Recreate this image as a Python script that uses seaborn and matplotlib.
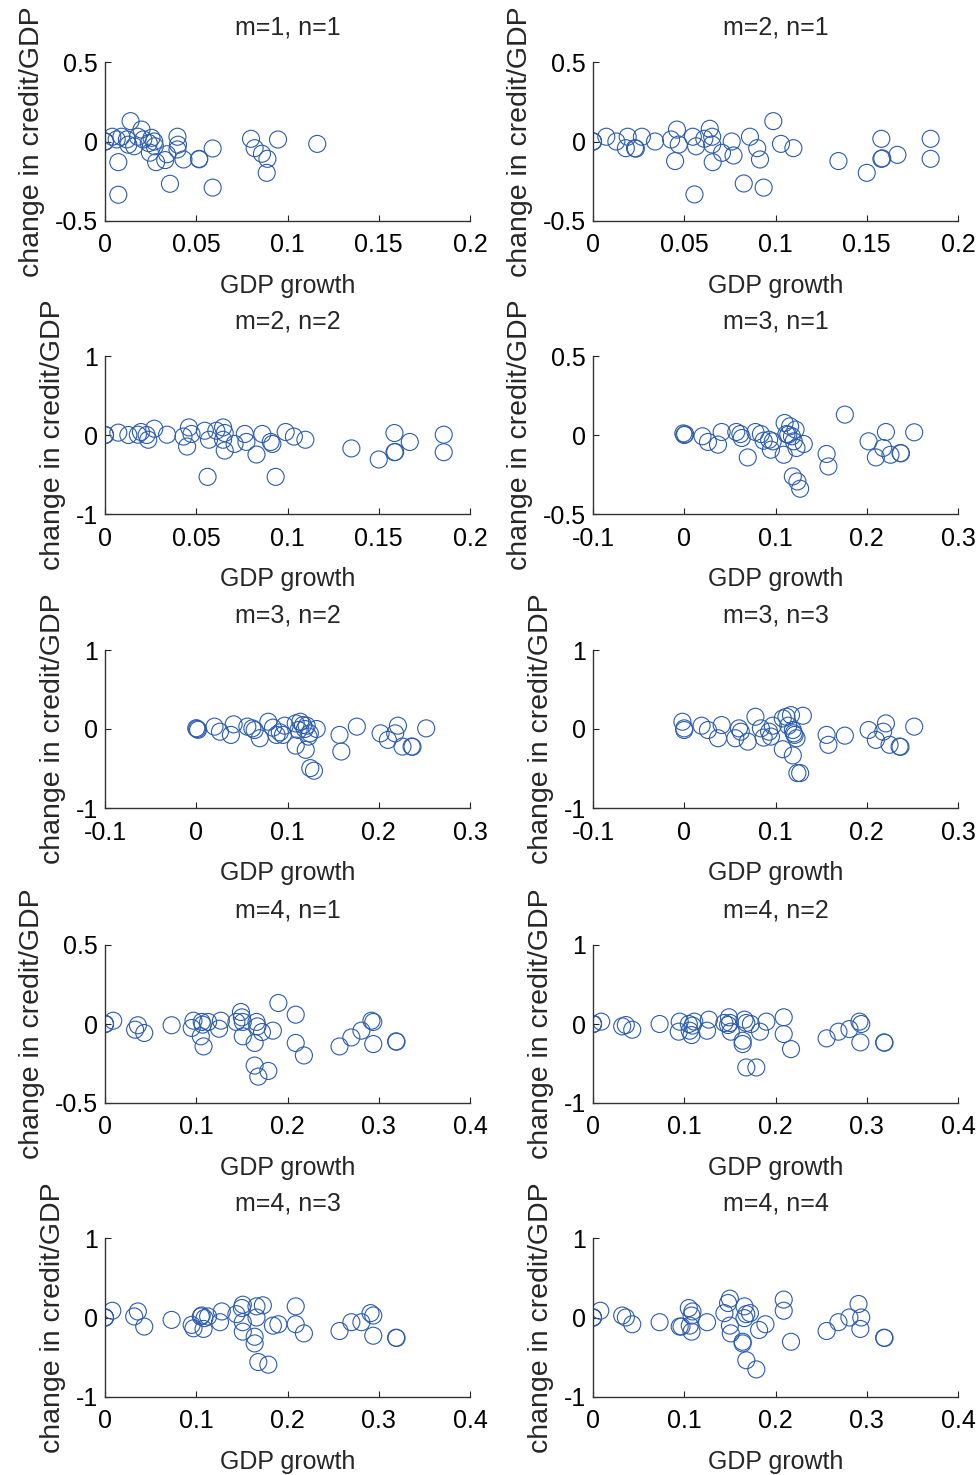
import matplotlib
matplotlib.use("Agg")
import matplotlib.pyplot as plt
import seaborn as sns
import pandas as pd

# ---------------- data ----------------
titles = ["m=1, n=1", "m=2, n=1", "m=2, n=2", "m=3, n=1", "m=3, n=2",
          "m=3, n=3", "m=4, n=1", "m=4, n=2", "m=4, n=3", "m=4, n=4"]

pts_m1n1 = [(0, 0), (0, 0), (0, 0), (0.004, 0.03), (0.0073, -0.13), (0.0073, -0.335),
            (0.014, 0.128), (0.0064, 0.013), (0.009, 0.03), (0.012, 0.013), (0.0128, -0.02),
            (0.016, -0.03), (0.018, 0.03), (0.020, 0.075), (0.021, 0.013), (0.024, -0.01),
            (0.0255, 0.023), (0.027, 0.0), (0.0273, -0.03), (0.0246, -0.07), (0.028, -0.13),
            (0.033, -0.117), (0.034, -0.08), (0.0397, 0.03), (0.040, -0.02), (0.0397, -0.05),
            (0.043, -0.113), (0.0516, -0.109), (0.0516, -0.112), (0.059, -0.044),
            (0.0356, -0.266), (0.059, -0.29), (0.080, 0.017), (0.082, -0.042), (0.086, -0.077),
            (0.089, -0.109), (0.0886, -0.197), (0.0948, 0.0125), (0.1163, -0.015)]

pts_m2n1 = [(0, 0), (0, 0), (0, 0), (0.0073, 0.03), (0.0128, 0.0), (0.018, -0.042),
            (0.019, 0.03), (0.023, -0.042), (0.0235, -0.045), (0.0268, 0.03), (0.034, 0.0),
            (0.0428, 0.0125), (0.046, 0.075), (0.047, -0.019), (0.045, -0.123), (0.0547, 0.03),
            (0.0565, -0.03), (0.061, 0.017), (0.064, 0.08), (0.0653, 0.03), (0.0653, -0.019),
            (0.0656, -0.13), (0.0707, -0.071), (0.076, 0.0), (0.077, -0.088), (0.086, 0.03),
            (0.090, -0.042), (0.0915, -0.113), (0.0826, -0.264), (0.0935, -0.29),
            (0.0556, -0.333), (0.0988, 0.128), (0.103, -0.015), (0.1098, -0.042),
            (0.1345, -0.123), (0.150, -0.197), (0.158, 0.017), (0.158, -0.109),
            (0.1585, -0.106), (0.1668, -0.084), (0.185, 0.017), (0.185, -0.109)]

pts_m2n2 = [(0, 0), (0, 0), (0, 0), (0.0073, 0.03), (0.0128, 0.0), (0.018, 0.004),
            (0.0197, 0.038), (0.0228, 0.0), (0.0237, -0.06), (0.027, 0.08), (0.034, 0.004),
            (0.043, -0.02), (0.046, 0.096), (0.0474, 0.013), (0.045, -0.146), (0.0547, 0.054),
            (0.057, -0.06), (0.061, 0.054), (0.0647, 0.096), (0.0656, 0.025), (0.0647, -0.06),
            (0.0656, -0.197), (0.071, -0.113), (0.0766, 0.013), (0.0775, -0.088),
            (0.0862, 0.013), (0.083, -0.247), (0.0908, -0.088), (0.0917, -0.113),
            (0.099, 0.038), (0.1035, -0.02), (0.1098, -0.06), (0.0562, -0.53), (0.0935, -0.53),
            (0.135, -0.17), (0.150, -0.31), (0.1586, 0.025), (0.1586, -0.218), (0.159, -0.214),
            (0.167, -0.088), (0.1856, 0.004), (0.1856, -0.218)]

pts_m3n1 = [(-0.001, 0.01), (0.0, 0.0), (0.001, 0.005), (0.020, -0.008), (0.026, -0.044),
            (0.037, -0.061), (0.041, 0.019), (0.057, 0.019), (0.0615, 0.006), (0.063, -0.019),
            (0.0696, -0.142), (0.078, 0.019), (0.084, 0.006), (0.087, -0.036), (0.093, -0.03),
            (0.097, -0.04), (0.095, -0.093), (0.109, -0.125), (0.11, 0.076), (0.112, 0.006),
            (0.116, 0.055), (0.118, -0.008), (0.122, 0.034), (0.12, -0.04), (0.123, -0.082),
            (0.131, -0.057), (0.119, -0.262), (0.124, -0.294), (0.127, -0.34), (0.114, 0.002),
            (0.156, -0.12), (0.158, -0.199), (0.176, 0.129), (0.202, -0.04), (0.21, -0.142),
            (0.218, -0.082), (0.221, 0.019), (0.226, -0.125), (0.237, -0.114),
            (0.2375, -0.116), (0.252, 0.017)]

pts_m3n2 = [(0, 0.01), (0.001, 0.0), (0.002, -0.01), (0.02, 0.03), (0.026, -0.034),
            (0.038, -0.075), (0.041, 0.059), (0.056, 0.03), (0.0615, 0.008), (0.064, -0.013),
            (0.0696, -0.117), (0.079, 0.092), (0.084, 0.017), (0.088, -0.075), (0.097, 0.042),
            (0.095, -0.075), (0.0916, -0.042), (0.109, 0.071), (0.112, -0.013), (0.114, 0.092),
            (0.117, 0.05), (0.119, 0.0), (0.121, 0.042), (0.1245, -0.055), (0.123, -0.096),
            (0.132, 0.0), (0.109, -0.21), (0.12, -0.264), (0.125, -0.495), (0.129, -0.528),
            (0.157, -0.075), (0.159, -0.285), (0.176, 0.03), (0.202, -0.055), (0.21, -0.138),
            (0.218, -0.055), (0.221, 0.042), (0.226, -0.222), (0.236, -0.222),
            (0.237, -0.225), (0.252, 0.008)]

pts_m3n3 = [(0, -0.013), (-0.002, 0.092), (0, 0.008), (0.019, 0.042), (0.026, -0.013),
            (0.037, -0.117), (0.041, 0.05), (0.056, -0.117), (0.06, 0.008), (0.062, -0.034),
            (0.0696, -0.16), (0.078, 0.155), (0.084, 0.008), (0.087, -0.109), (0.093, -0.034),
            (0.095, -0.096), (0.097, 0.042), (0.108, 0.134), (0.112, 0.155), (0.117, 0.176),
            (0.114, 0.042), (0.119, -0.013), (0.121, -0.075), (0.123, -0.117), (0.12, -0.055),
            (0.13, 0.168), (0.108, -0.256), (0.119, -0.335), (0.124, -0.558), (0.127, -0.558),
            (0.156, -0.075), (0.158, -0.2), (0.176, -0.084), (0.202, -0.013), (0.21, -0.138),
            (0.218, -0.034), (0.221, 0.071), (0.225, -0.2), (0.236, -0.222), (0.237, -0.226),
            (0.252, 0.03)]

pts_m4n1 = [(0, 0), (0, 0), (0, 0), (0.009, 0.021), (0.033, -0.036), (0.036, -0.008),
            (0.043, -0.057), (0.073, -0.008), (0.097, 0.021), (0.095, -0.025), (0.106, 0.013),
            (0.107, -0.004), (0.105, -0.078), (0.108, -0.142), (0.113, 0.013), (0.125, -0.03),
            (0.127, 0.021), (0.144, 0.013), (0.149, 0.076), (0.15, 0.042), (0.151, 0.013),
            (0.151, -0.078), (0.164, -0.12), (0.166, 0.013), (0.167, -0.015), (0.172, -0.051),
            (0.184, -0.042), (0.164, -0.263), (0.179, -0.297), (0.168, -0.333), (0.19, 0.133),
            (0.209, 0.059), (0.209, -0.12), (0.218, -0.199), (0.257, -0.142), (0.27, -0.085),
            (0.281, -0.042), (0.292, 0.021), (0.294, 0.013), (0.294, -0.127), (0.319, -0.11),
            (0.3195, -0.112)]

pts_m4n2 = [(0, 0), (0, 0), (0, 0), (0.009, 0.03), (0.032, -0.03), (0.036, -0.013),
            (0.043, -0.072), (0.073, 0.0), (0.095, 0.03), (0.094, -0.097), (0.105, 0.0),
            (0.106, -0.085), (0.108, -0.14), (0.109, -0.02), (0.111, 0.03), (0.125, -0.085),
            (0.127, 0.055), (0.144, 0.013), (0.149, 0.085), (0.15, 0.013), (0.151, -0.097),
            (0.148, -0.013), (0.164, -0.212), (0.164, -0.254), (0.166, 0.055), (0.168, 0.013),
            (0.173, 0.0), (0.183, -0.097), (0.19, 0.03), (0.209, 0.085), (0.209, -0.127),
            (0.217, -0.318), (0.168, -0.55), (0.179, -0.55), (0.256, -0.182), (0.269, -0.097),
            (0.281, -0.064), (0.292, 0.03), (0.294, 0.0), (0.293, -0.233), (0.319, -0.233),
            (0.3195, -0.237)]

pts_m4n3 = [(0, 0), (0, 0), (0, 0), (0.008, 0.085), (0.032, 0.013), (0.036, 0.076),
            (0.043, -0.114), (0.073, -0.03), (0.095, -0.093), (0.097, -0.136), (0.105, 0.013),
            (0.106, 0.025), (0.108, -0.144), (0.109, -0.008), (0.113, 0.013), (0.126, -0.059),
            (0.128, 0.076), (0.144, 0.042), (0.15, 0.119), (0.151, 0.161), (0.151, -0.059),
            (0.151, -0.178), (0.164, -0.242), (0.164, -0.326), (0.166, 0.14), (0.173, 0.153),
            (0.166, 0.0), (0.184, -0.102), (0.19, -0.085), (0.168, -0.56), (0.179, -0.593),
            (0.209, 0.14), (0.209, -0.085), (0.218, -0.2), (0.257, -0.17), (0.27, -0.059),
            (0.281, -0.059), (0.291, 0.055), (0.294, 0.025), (0.294, -0.229), (0.319, -0.254),
            (0.3195, -0.258)]

pts_m4n4 = [(0, 0), (0, 0), (0, 0), (0.008, 0.085), (0.032, 0.025), (0.036, 0.0),
            (0.043, -0.085), (0.073, -0.059), (0.095, -0.114), (0.097, -0.114), (0.105, 0.119),
            (0.108, 0.025), (0.109, 0.076), (0.108, -0.178), (0.106, -0.102), (0.125, -0.059),
            (0.144, 0.055), (0.148, 0.182), (0.15, 0.237), (0.15, -0.102), (0.151, -0.2),
            (0.164, -0.326), (0.164, -0.305), (0.166, 0.14), (0.168, 0.042), (0.172, 0.055),
            (0.166, -0.008), (0.182, -0.157), (0.189, -0.085), (0.168, -0.538), (0.179, -0.653),
            (0.209, 0.225), (0.209, 0.085), (0.217, -0.305), (0.256, -0.17), (0.269, -0.059),
            (0.281, 0.0), (0.291, 0.17), (0.294, 0.0), (0.293, -0.144), (0.319, -0.254),
            (0.3195, -0.258)]

panel_points = [pts_m1n1, pts_m2n1, pts_m2n2, pts_m3n1, pts_m3n2,
                pts_m3n3, pts_m4n1, pts_m4n2, pts_m4n3, pts_m4n4]

xticks_a = [0, 0.05, 0.1, 0.15, 0.2]
xticks_b = [-0.1, 0, 0.1, 0.2, 0.3]
xticks_c = [0, 0.1, 0.2, 0.3, 0.4]
yticks_s = [-0.5, 0, 0.5]
yticks_l = [-1, 0, 1]
panel_xticks = [xticks_a, xticks_a, xticks_a, xticks_b, xticks_b,
                xticks_b, xticks_c, xticks_c, xticks_c, xticks_c]
panel_yticks = [yticks_s, yticks_s, yticks_l, yticks_s, yticks_l,
                yticks_l, yticks_s, yticks_l, yticks_l, yticks_l]

xlabel = "GDP growth"
ylabel = "change in credit/GDP"

# ---------------- style ----------------
sns.set_style("white")
plt.rcParams["font.family"] = ["Liberation Sans", "DejaVu Sans"]
plt.rcParams["axes.unicode_minus"] = False

W, H = 980, 1475
fig = plt.figure(figsize=(W / 100, H / 100), dpi=100)

col_left = [105, 593]
ax_w = 365
row_tb = [(62, 221), (356, 514), (650, 808), (945, 1103), (1238, 1397)]

marker_color = "#2b5cb0"
fs = 18

for i, pts in enumerate(panel_points):
    r, c = divmod(i, 2)
    top, bot = row_tb[r]
    ax = fig.add_axes([col_left[c] / W, 1 - bot / H, ax_w / W, (bot - top) / H])
    df = pd.DataFrame(pts, columns=["x", "y"])
    sns.scatterplot(data=df, x="x", y="y", ax=ax, marker="o", s=150,
                    color=marker_color, linewidth=0.8, legend=False)
    coll = ax.collections[-1]
    coll.set_facecolor("none")
    coll.set_edgecolor(marker_color)

    xt, yt = panel_xticks[i], panel_yticks[i]
    ax.set_xlim(xt[0], xt[-1])
    ax.set_ylim(yt[0], yt[-1])
    ax.set_xticks(xt)
    ax.set_yticks(yt)
    ax.set_xticklabels([f"{v:g}" for v in xt])
    ax.set_yticklabels([f"{v:g}" for v in yt])
    ax.tick_params(direction="in", length=4, width=0.8, labelsize=fs,
                   colors="#222222", labelcolor="black",
                   bottom=True, left=True, top=False, right=False)
    ax.tick_params(axis="x", pad=9)
    ax.tick_params(axis="y", pad=5)
    for side in ["top", "right"]:
        ax.spines[side].set_visible(False)
    for side in ["left", "bottom"]:
        ax.spines[side].set_color("#333333")
        ax.spines[side].set_linewidth(1.0)
    ax.set_xlabel(xlabel, fontsize=fs, labelpad=12)
    ax.set_ylabel(ylabel, fontsize=20.5, labelpad=7)
    ax.set_title(titles[i], fontsize=fs, pad=20)

fig.savefig("out.png", dpi=100)
